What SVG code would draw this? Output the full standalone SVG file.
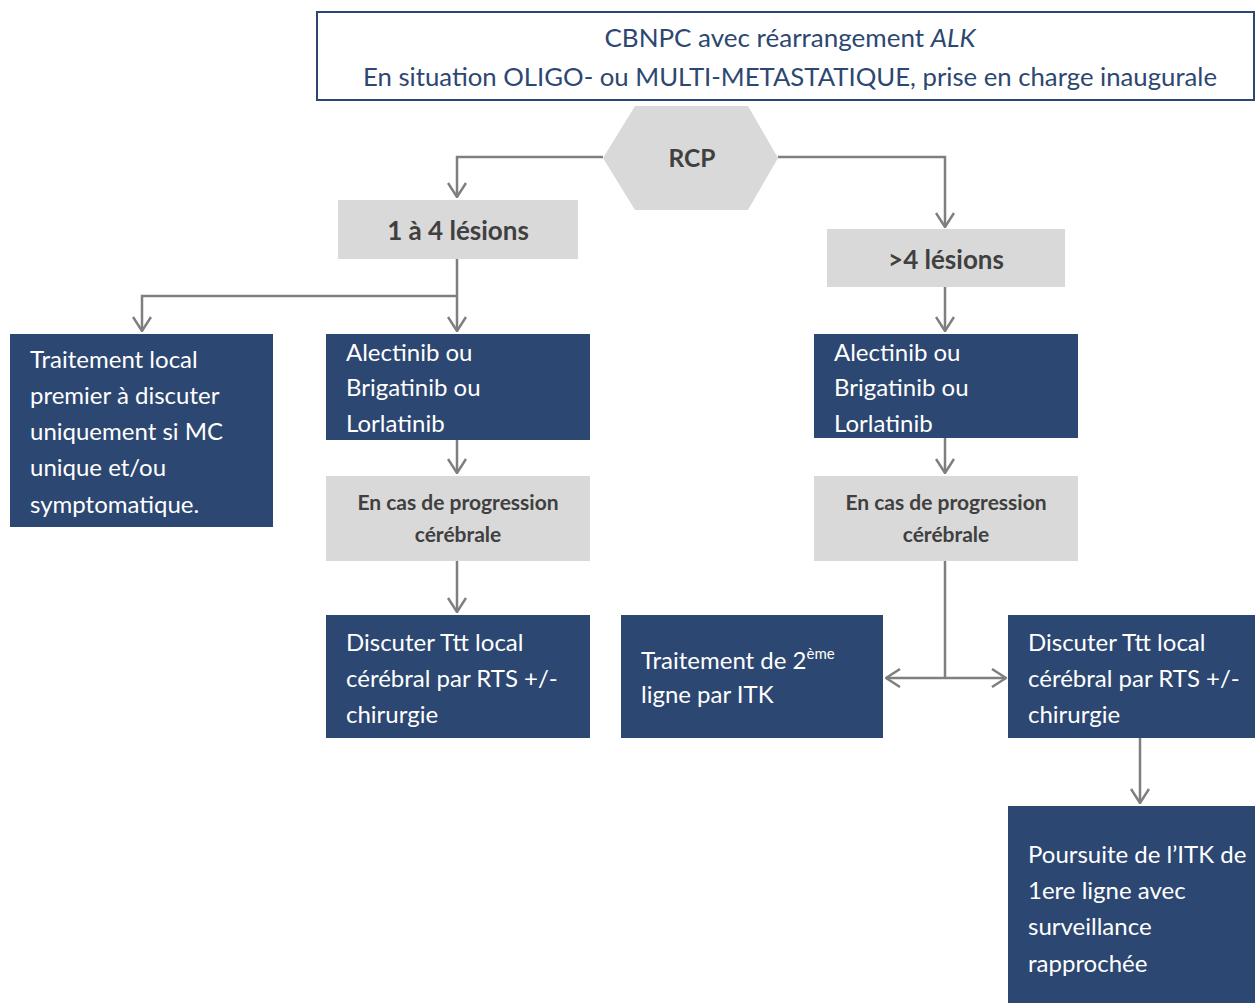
<svg xmlns="http://www.w3.org/2000/svg" width="1255" height="1003" viewBox="0 0 1255 1003">
<defs>
<style>
.t{font-family:Lato,"Open Sans","Liberation Sans",sans-serif}
.blue{fill:#2c4771}
.gray{fill:#d9d9d9}
.wt{fill:#ffffff;font-size:24px}
.gt{fill:#404040;font-weight:bold}
.ln{fill:none;stroke:#7f7f7f;stroke-width:2.5}
</style>
<marker id="ah" viewBox="0 0 16 20" refX="15" refY="10" markerWidth="16" markerHeight="20" markerUnits="userSpaceOnUse" orient="auto-start-reverse">
<path d="M1,1 L15,10 L1,19" fill="none" stroke="#7f7f7f" stroke-width="2.5"/>
</marker>
</defs>
<rect width="1255" height="1003" fill="#ffffff"/>
<g id="connectors">
<path class="ln" d="M603,157 H457 V197" marker-end="url(#ah)"/>
<path class="ln" d="M778,157 H945 V227" marker-end="url(#ah)"/>
<path class="ln" d="M457,259 V331" marker-end="url(#ah)"/>
<path class="ln" d="M457,296 H142 V331" marker-end="url(#ah)"/>
<path class="ln" d="M457,440 V473" marker-end="url(#ah)"/>
<path class="ln" d="M457,561 V612" marker-end="url(#ah)"/>
<path class="ln" d="M945,287 V331" marker-end="url(#ah)"/>
<path class="ln" d="M945,438 V473" marker-end="url(#ah)"/>
<path class="ln" d="M945,561 V678"/>
<path class="ln" d="M886,678 H1006" marker-start="url(#ah)" marker-end="url(#ah)"/>
<path class="ln" d="M1140,738 V803" marker-end="url(#ah)"/>
</g>
<g id="title">
<rect x="317" y="12" width="937" height="88" fill="#ffffff" stroke="#2c4771" stroke-width="2"/>
<text class="t" x="790" y="47" text-anchor="middle" font-size="25.5" fill="#2c4771" textLength="371" lengthAdjust="spacingAndGlyphs">CBNPC avec réarrangement <tspan font-style="italic">ALK</tspan></text>
<text class="t" x="790" y="86" text-anchor="middle" font-size="25.5" fill="#2c4771" textLength="854" lengthAdjust="spacingAndGlyphs">En situation OLIGO- ou MULTI-METASTATIQUE, prise en charge inaugurale</text>
</g>
<g id="rcp">
<polygon class="gray" points="603,158 635,106 748,106 778,158 748,210 635,210"/>
<text class="t gt" x="692" y="167" text-anchor="middle" font-size="24.5">RCP</text>
</g>
<g id="n1a4">
<rect class="gray" x="338" y="200" width="240" height="59"/>
<text class="t gt" x="458" y="240" text-anchor="middle" font-size="26">1 à 4 lésions</text>
</g>
<g id="n4plus">
<rect class="gray" x="827" y="229" width="238" height="58"/>
<text class="t gt" x="946" y="269" text-anchor="middle" font-size="26">&gt;4 lésions</text>
</g>
<g id="localfirst">
<rect class="blue" x="10" y="334" width="263" height="193"/>
<text class="t wt" x="30" y="368">Traitement local</text>
<text class="t wt" x="30" y="404">premier à discuter</text>
<text class="t wt" x="30" y="440">uniquement si MC</text>
<text class="t wt" x="30" y="476">unique et/ou</text>
<text class="t wt" x="30" y="513">symptomatique.</text>
</g>
<g id="itkLeft">
<rect class="blue" x="326" y="334" width="264" height="106"/>
<text class="t wt" x="346" y="361">Alectinib ou</text>
<text class="t wt" x="346" y="396">Brigatinib ou</text>
<text class="t wt" x="346" y="432">Lorlatinib</text>
</g>
<g id="progLeft">
<rect class="gray" x="326" y="476" width="264" height="85"/>
<text class="t gt" x="458" y="510" text-anchor="middle" font-size="21">En cas de progression</text>
<text class="t gt" x="458" y="542" text-anchor="middle" font-size="21">cérébrale</text>
</g>
<g id="localLeft">
<rect class="blue" x="326" y="615" width="264" height="123"/>
<text class="t wt" x="346" y="651">Discuter Ttt local</text>
<text class="t wt" x="346" y="687">cérébral par RTS +/-</text>
<text class="t wt" x="346" y="723">chirurgie</text>
</g>
<g id="itkRight">
<rect class="blue" x="814" y="334" width="264" height="104"/>
<text class="t wt" x="834" y="361">Alectinib ou</text>
<text class="t wt" x="834" y="396">Brigatinib ou</text>
<text class="t wt" x="834" y="432">Lorlatinib</text>
</g>
<g id="progRight">
<rect class="gray" x="814" y="476" width="264" height="85"/>
<text class="t gt" x="946" y="510" text-anchor="middle" font-size="21">En cas de progression</text>
<text class="t gt" x="946" y="542" text-anchor="middle" font-size="21">cérébrale</text>
</g>
<g id="secondLine">
<rect class="blue" x="621" y="615" width="262" height="123"/>
<text class="t wt" x="641" y="669">Traitement de 2<tspan font-size="15" dy="-10">ème</tspan></text>
<text class="t wt" x="641" y="703">ligne par ITK</text>
</g>
<g id="localRight">
<rect class="blue" x="1008" y="615" width="247" height="123"/>
<text class="t wt" x="1028" y="651">Discuter Ttt local</text>
<text class="t wt" x="1028" y="687">cérébral par RTS +/-</text>
<text class="t wt" x="1028" y="723">chirurgie</text>
</g>
<g id="poursuite">
<rect class="blue" x="1008" y="806" width="247" height="197"/>
<text class="t wt" x="1028" y="863">Poursuite de l’ITK de</text>
<text class="t wt" x="1028" y="899">1ere ligne avec</text>
<text class="t wt" x="1028" y="935">surveillance</text>
<text class="t wt" x="1028" y="972">rapprochée</text>
</g>
</svg>
